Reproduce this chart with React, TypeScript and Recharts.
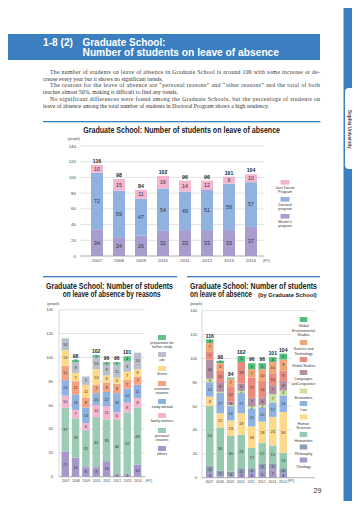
import React from 'react';
import { BarChart, Bar, XAxis, YAxis, CartesianGrid, LabelList } from 'recharts';

// ------------------------------------------------------------
// data (FY 2007 - 2014)
// ------------------------------------------------------------
const years = ['2007', '2008', '2009', '2010', '2011', '2012', '2013', '2014'];
const totals = [116, 98, 84, 102, 96, 96, 101, 104];
const yTicks = [0, 20, 40, 60, 80, 100, 120, 140];

// by program
const masters = [34, 24, 26, 32, 33, 33, 33, 37];
const doctoral = [72, 59, 47, 54, 49, 51, 59, 57];
const jurisDoctor = [10, 15, 11, 16, 14, 12, 9, 10];

// by reason
const others = [21, 16, 8, 8, 13, 2, 2, 10];
const personal = [37, 33, 31, 42, 35, 46, 52, 48];
const family = [10, 7, 6, 10, 11, 6, 8, 8];
const studyAbroad = [13, 13, 13, 10, 12, 16, 12, 11];
const economic = [12, 11, 8, 7, 8, 8, 7, 7];
const illness = [13, 7, 11, 13, 6, 5, 7, 6];
const job = [10, 9, 7, 10, 9, 11, 9, 14];
const furtherStudy = [0, 2, 0, 2, 2, 2, 4, 0];

// by graduate school
const theology = [4, 1, 1, 3, 4, 6, 7, 4];
const philosophy = [6, 5, 4, 5, 4, 6, 5, 4];
const humanities = [50, 36, 30, 28, 17, 17, 15, 13];
const humanSciences = [8, 12, 13, 18, 18, 18, 24, 34];
const law = [12, 17, 12, 17, 15, 12, 12, 14];
const economics = [3, 1, 1, 2, 2, 2, 7, 4];
const languages = [16, 8, 3, 6, 7, 6, 7, 8];
const globalStudies = [7, 10, 12, 18, 17, 14, 10, 9];
const sciTech = [7, 6, 7, 0, 7, 10, 10, 9];
const globalEnv = [3, 2, 1, 5, 5, 5, 4, 5];

const BLUE = '#3b7fc1';
const sans = "'Liberation Sans', Arial, sans-serif";
const narrow = "'Liberation Sans Narrow', 'Liberation Sans', Arial, sans-serif";
const serif = "'Liberation Serif', 'Times New Roman', serif";

type Seg = { key: string; values: number[]; color: string; label: string[] };

// bottom -> top
const programSegs: Seg[] = [
  { key: 'masters', values: masters, color: '#a99cce', label: ["Master's", 'program'] },
  { key: 'doctoral', values: doctoral, color: '#8fb2e0', label: ['Doctoral', 'program'] },
  { key: 'jd', values: jurisDoctor, color: '#f5b4cf', label: ['Juris Doctor', 'Program'] },
];

const reasonSegs: Seg[] = [
  { key: 'others', values: others, color: '#a698cc', label: ['others'] },
  { key: 'personal', values: personal, color: '#9ccdb4', label: ['personal', 'reasons'] },
  { key: 'family', values: family, color: '#f5b4cf', label: ['family matters'] },
  { key: 'study', values: studyAbroad, color: '#8fb2e0', label: ['study abroad'] },
  { key: 'economic', values: economic, color: '#f5a283', label: ['economic', 'reasons'] },
  { key: 'illness', values: illness, color: '#fdd98c', label: ['illness'] },
  { key: 'job', values: job, color: '#b9c0cc', label: ['job'] },
  { key: 'further', values: furtherStudy, color: '#62c48c', label: ['preparation for', 'further study'] },
];

const schoolSegs: Seg[] = [
  { key: 'theology', values: theology, color: '#a698cc', label: ['Theology'] },
  { key: 'philosophy', values: philosophy, color: '#8d9db4', label: ['Philosophy'] },
  { key: 'humanities', values: humanities, color: '#96caae', label: ['Humanities'] },
  { key: 'humanSci', values: humanSciences, color: '#fdd98c', label: ['Human', 'Sciences'] },
  { key: 'law', values: law, color: '#8fb2e0', label: ['Law'] },
  { key: 'economics', values: economics, color: '#cbe39e', label: ['Economics'] },
  { key: 'languages', values: languages, color: '#b38fa4', label: ['Languages', 'and Linguistics'] },
  { key: 'global', values: globalStudies, color: '#e98b7e', label: ['Global Studies'] },
  { key: 'sciTech', values: sciTech, color: '#f0a677', label: ['Science and', 'Technology'] },
  { key: 'env', values: globalEnv, color: '#4fbf7c', label: ['Global', 'Environmental', 'Studies'] },
];

// segments of 1 are too thin to carry a number without colliding
const segLabel = (size: number) => (p: any) => {
  const { x, y, width, height, value } = p;
  if (!value || value < 2) return null;
  return (
    <text x={+x + +width / 2} y={+y + +height / 2 + size * 0.36} textAnchor="middle"
      fontSize={size} fill="#333" fontFamily={sans}>{value}</text>
  );
};

const totalLabel = (size: number) => (p: any) => {
  const { x, y, width, value } = p;
  return (
    <text x={+x + +width / 2} y={+y - 1.8} textAnchor="middle" fontSize={size}
      fontWeight="bold" fill="#222" fontFamily={sans}>{value}</text>
  );
};

type ChartProps = {
  segs: Seg[]; left: number; top: number; width: number; height: number;
  margin: { top: number; right: number; bottom: number; left: number };
  yWidth: number; pad: { left: number; right: number }; barSize: number;
  segSize: number; totSize: number; tickSize: number; xTickSize: number;
  yMargin: number; xMargin: number; xHeight: number; vAxis: boolean;
};

function StackChart(c: ChartProps) {
  const rows = years.map((year, i) => {
    const r: any = { year, total: totals[i] };
    c.segs.forEach(s => { r[s.key] = s.values[i]; });
    return r;
  });
  return (
    <div style={{ position: 'absolute', left: c.left, top: c.top }}>
      <BarChart width={c.width} height={c.height} data={rows} margin={c.margin}>
        <CartesianGrid vertical={false} stroke="#cfcfcf" strokeWidth={0.6} />
        <XAxis dataKey="year" interval={0} padding={c.pad} height={c.xHeight}
          tickLine={false} tickSize={0} tickMargin={c.xMargin}
          axisLine={{ stroke: '#9a9a9a', strokeWidth: 0.6 }}
          tick={{ fontSize: c.xTickSize, fill: '#444', fontFamily: sans }} />
        <YAxis domain={[0, 140]} ticks={yTicks} width={c.yWidth} interval={0}
          tickLine={false} tickSize={0} tickMargin={c.yMargin}
          axisLine={c.vAxis ? { stroke: '#bdbdbd', strokeWidth: 0.6 } : false}
          tick={{ fontSize: c.tickSize, fill: '#444', fontFamily: sans }} />
        {c.segs.map((s, j) => (
          <Bar key={s.key} dataKey={s.key} stackId="a" fill={s.color}
            barSize={c.barSize} isAnimationActive={false}>
            <LabelList dataKey={s.key} content={segLabel(c.segSize)} />
            {j === c.segs.length - 1 && (
              <LabelList dataKey="total" content={totalLabel(c.totSize)} />
            )}
          </Bar>
        ))}
      </BarChart>
    </div>
  );
}

function Legend({ segs, boxY, cx, bw, bh, font, gap, lh }: {
  segs: Seg[]; boxY: number[]; cx: number; bw: number; bh: number;
  font: number; gap: number; lh: number;
}) {
  const items = [...segs].reverse();
  return (
    <g>
      {items.map((s, i) => (
        <g key={s.key}>
          <rect x={cx - bw / 2} y={boxY[i]} width={bw} height={bh} fill={s.color} />
          {s.label.map((t, k) => (
            <text key={k} x={cx} y={boxY[i] + bh + gap + k * lh} textAnchor="middle"
              fontSize={font} fill="#333" fontFamily={sans}>{t}</text>
          ))}
        </g>
      ))}
    </g>
  );
}

const para = [
  { x: 50, y: 74, w: 270, t: 'The number of students on leave of absence in Graduate School is around 100 with some increase or de-' },
  { x: 43, y: 80.7, w: 0, t: 'crease every year but it shows no significant trends.' },
  { x: 50, y: 87.4, w: 270, t: 'The reasons for the leave of absence are \u201cpersonal reasons\u201d and \u201cother reasons\u201d and the total of both' },
  { x: 43, y: 94.1, w: 0, t: 'reaches almost 50%, making it difficult to find any trends.' },
  { x: 50, y: 100.8, w: 270, t: 'No significant differences were found among the Graduate Schools, but the percentage of students on' },
  { x: 43, y: 107.5, w: 0, t: 'leave of absence among the total number of students in Doctoral Program shows a high tendency.' },
];

export default function App() {
  return (
    <div style={{ position: 'relative', width: 360, height: 509, margin: -8, background: '#fff', overflow: 'hidden' }}>
      <StackChart segs={programSegs} left={40} top={130} width={240} height={140}
        margin={{ top: 16, right: 16, bottom: 2, left: 0 }} yWidth={40}
        pad={{ left: 6, right: 2 }} barSize={12} segSize={5.2} totSize={5.2}
        tickSize={4.4} xTickSize={4.4} yMargin={4} xMargin={3} xHeight={12} vAxis={false} />
      <StackChart segs={reasonSegs} left={20} top={298} width={135} height={190}
        margin={{ top: 11.7, right: 10, bottom: 1.3, left: 0 }} yWidth={39}
        pad={{ left: 1.5, right: 1.9 }} barSize={7.5} segSize={3.9} totSize={5}
        tickSize={4} xTickSize={3.4} yMargin={6} xMargin={2.8} xHeight={10} vAxis />
      <StackChart segs={schoolSegs} left={180} top={298} width={140} height={191}
        margin={{ top: 12.7, right: 5, bottom: 1.3, left: 0 }} yWidth={22}
        pad={{ left: 2, right: 27 }} barSize={7.5} segSize={3.9} totSize={5}
        tickSize={4} xTickSize={3.4} yMargin={5} xMargin={2.8} xHeight={10} vAxis />

      <svg width={360} height={509} style={{ position: 'absolute', left: 0, top: 0, pointerEvents: 'none' }}>
        {/* side tab */}
        <rect x={343.5} y={0} width={17} height={509} fill={BLUE} />
        <rect x={345} y={88} width={24} height={81} rx={4} fill="#fff" />
        <text x={0} y={0} transform="translate(348 110) rotate(90)" fontSize={4.6}
          fontWeight="bold" fill="#444" fontFamily={sans}>Sophia University</text>

        {/* header band */}
        <rect x={0} y={34} width={320} height={26} fill={BLUE} />
        <text x={43} y={45.5} fontSize={10.5} fontWeight="bold" fill="#fff" fontFamily={sans}
          textLength={30} lengthAdjust="spacingAndGlyphs">1-8 (2)</text>
        <text x={82.5} y={45.5} fontSize={10.5} fontWeight="bold" fill="#fff" fontFamily={sans}
          textLength={83} lengthAdjust="spacingAndGlyphs">Graduate School:</text>
        <text x={82.5} y={56.3} fontSize={10.5} fontWeight="bold" fill="#fff" fontFamily={sans}
          textLength={196.5} lengthAdjust="spacingAndGlyphs">Number of students on leave of absence</text>

        {/* body text */}
        {para.map((l, i) => (
          <text key={i} x={l.x} y={l.y} fontSize={5.8} fill="#333" fontFamily={serif}
            {...(l.w ? { textLength: l.w, lengthAdjust: 'spacing' } : {})}>{l.t}</text>
        ))}

        {/* rules */}
        <rect x={43} y={121} width={277.5} height={1.3} fill={BLUE} />
        <rect x={43} y={276} width={134} height={1.3} fill={BLUE} />
        <rect x={187} y={276} width={133} height={1.3} fill={BLUE} />

        {/* titles */}
        <text x={83.3} y={132.8} fontSize={8.4} fontWeight="bold" fill="#222" fontFamily={narrow}
          textLength={196.7} lengthAdjust="spacingAndGlyphs">Graduate School: Number of students on leave of absence</text>
        <text x={46} y={288.6} fontSize={8.4} fontWeight="bold" fill="#222" fontFamily={narrow}
          textLength={127} lengthAdjust="spacingAndGlyphs">Graduate School: Number of students</text>
        <text x={62.7} y={297.4} fontSize={8.4} fontWeight="bold" fill="#222" fontFamily={narrow}
          textLength={98} lengthAdjust="spacingAndGlyphs">on leave of absence by reasons</text>
        <text x={190} y={288.6} fontSize={8.4} fontWeight="bold" fill="#222" fontFamily={narrow}
          textLength={127} lengthAdjust="spacingAndGlyphs">Graduate School: Number of students</text>
        {/* squeezed with a transform so the box really ends where the glyphs do */}
        <text x={0} y={0} transform="translate(190 297.4) scale(0.777 1)" fontSize={8.4}
          fontWeight="bold" fill="#222" fontFamily="'Liberation Sans', Arial, sans-serif">on leave of absence</text>
        <text x={0} y={0} transform="translate(258 297.4) scale(0.97 1)" fontSize={6}
          fontWeight="bold" fill="#222" fontFamily="'Liberation Sans', Arial, sans-serif">(by Graduate School)</text>

        {/* unit labels */}
        <text x={67.5} y={140} fontSize={3.4} fill="#444" fontFamily={sans}>(people)</text>
        <text x={263} y={262.3} fontSize={3.6} fill="#444" fontFamily={sans}>(FY)</text>
        <text x={47} y={304.5} fontSize={3.4} fill="#444" fontFamily={sans}>(people)</text>
        <text x={145.5} y={482} fontSize={3.4} fill="#444" fontFamily={sans}>(FY)</text>
        <text x={190} y={305} fontSize={3.4} fill="#444" fontFamily={sans}>(people)</text>
        <text x={287.5} y={482} fontSize={3.4} fill="#444" fontFamily={sans}>(FY)</text>

        {/* legends */}
        <Legend segs={programSegs} boxY={[180, 197, 214]} cx={285} bw={9} bh={4.6}
          font={3.6} gap={4.2} lh={3.8} />
        <Legend segs={reasonSegs} boxY={[335, 352, 366, 381, 399, 413, 428, 446]} cx={162}
          bw={8} bh={5} font={3.6} gap={4.3} lh={4} />
        <rect x={291} y={314} width={28} height={158} fill="#fff" />
        <Legend segs={schoolSegs} boxY={[317, 340, 357, 370, 388.5, 401, 414.5, 432, 444.5, 457.5]}
          cx={303.5} bw={7.5} bh={5} font={3.6} gap={5.4} lh={4.5} />

        <text x={313.5} y={493} fontSize={7.2} fill="#333" fontFamily={sans}>29</text>
      </svg>
    </div>
  );
}
